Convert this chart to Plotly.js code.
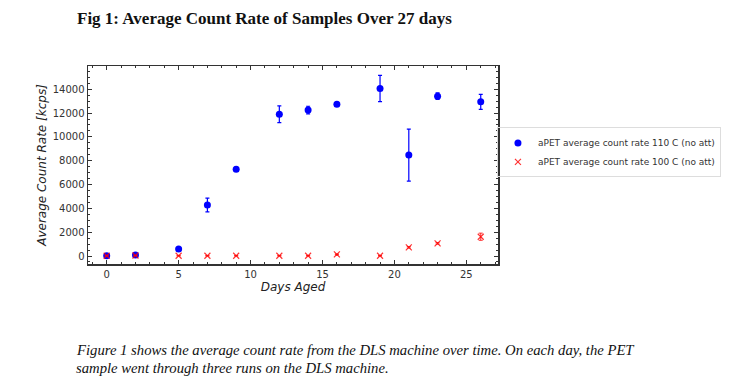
<!DOCTYPE html>
<html>
<head>
<meta charset="utf-8">
<script src="https://cdn.plot.ly/plotly-3.0.1.min.js"></script>
<style>html,body{margin:0;padding:0;background:#fff;}#chart{width:732px;height:380px;}</style>
</head>
<body>
<div id="chart"></div>
<script>
const days = [0, 2, 5, 7, 9, 12, 14, 16, 19, 21, 23, 26];
const rate110 = [30, 80, 590, 4280, 7290, 11900, 12250, 12740, 14060, 8470, 13420, 12940];
const err110 = [40, 60, 80, 580, 160, 700, 320, 80, 1100, 2180, 270, 630];
const rate100 = [20, 40, 20, 20, 20, 20, 20, 140, 20, 730, 1060, 1620];
const err100 = [10, 10, 10, 10, 10, 10, 10, 30, 10, 60, 60, 300];
const name110 = 'aPET average count rate 110 C (no att)';
const name100 = 'aPET average count rate 100 C (no att)';
const titleText = '<b>Fig 1: Average Count Rate of Samples Over 27 days</b>';
const caption1 = 'Figure 1 shows the average count rate from the DLS machine over time. On each day, the PET';
const caption2 = 'sample went through three runs on the DLS machine.';

const traces = [
  {x: days, y: rate110, name: name110, type: 'scatter', mode: 'markers',
   marker: {color: 'rgb(0,0,255)', size: 7, symbol: 'circle'},
   error_y: {type: 'data', array: err110, visible: true, color: 'rgb(0,0,255)', thickness: 1.2, width: 2}},
  {x: days, y: rate100, name: name100, type: 'scatter', mode: 'markers',
   marker: {color: 'rgba(255,0,0,0.8)', size: 6, symbol: 'x-thin-open', line: {color: 'rgba(255,0,0,0.8)', width: 1.2}},
   error_y: {type: 'data', array: err100, visible: true, color: 'rgba(255,0,0,0.8)', thickness: 1, width: 2}}
];

const axisFont = {family: 'DejaVu Sans', size: 10, color: '#333'};
const layout = {
  width: 732, height: 380,
  margin: {l: 88, r: 233, t: 66, b: 116},
  paper_bgcolor: '#fff', plot_bgcolor: '#fff',
  showlegend: true,
  title: {text: titleText, font: {family: 'Liberation Serif', size: 17, color: '#111'},
          xref: 'container', x: 77/732, xanchor: 'left', yref: 'container', y: 1 - 18/380, yanchor: 'middle'},
  xaxis: {range: [-1.3, 27.2], dtick: 5, tick0: 0, ticks: 'inside', ticklen: 4, tickcolor: '#333',
          showline: true, linecolor: '#333', linewidth: 1.5, mirror: 'allticks', showgrid: false, zeroline: false,
          tickfont: axisFont,
          minor: {dtick: 1, ticks: 'inside', ticklen: 2, tickcolor: '#333', showgrid: false},
          title: {text: '<i>Days Aged</i>', font: {family: 'DejaVu Sans', size: 12, color: '#222'}, standoff: 4}},
  yaxis: {range: [-670, 15950], dtick: 2000, tick0: 0, tickformat: 'd', ticks: 'inside', ticklen: 4, tickcolor: '#333',
          showline: true, linecolor: '#333', linewidth: 1.5, mirror: 'allticks', showgrid: false, zeroline: false,
          tickfont: axisFont,
          minor: {dtick: 500, ticks: 'inside', ticklen: 2, tickcolor: '#333', showgrid: false},
          title: {text: '<i>Average Count Rate [kcps]</i>', font: {family: 'DejaVu Sans', size: 12, color: '#222'}, standoff: 3}},
  legend: {x: 0.995, xanchor: 'left', y: 0.69, yanchor: 'top', bgcolor: 'rgba(255,255,255,0)',
           bordercolor: '#ddd', borderwidth: 1, font: {family: 'DejaVu Sans', size: 9, color: '#333'},
           tracegroupgap: 0, itemwidth: 30},
  annotations: [
    {xref: 'paper', yref: 'paper', x: (74-88)/411, y: (264-350)/198, xanchor: 'left', yanchor: 'middle', showarrow: false,
     text: '<i>' + caption1 + '</i>', font: {family: 'Liberation Serif', size: 14.7, color: '#111'}},
    {xref: 'paper', yref: 'paper', x: (74-88)/411, y: (264-368)/198, xanchor: 'left', yanchor: 'middle', showarrow: false,
     text: '<i>' + caption2 + '</i>', font: {family: 'Liberation Serif', size: 14.7, color: '#111'}}
  ]
};
Plotly.newPlot('chart', traces, layout, {displayModeBar: false, staticPlot: true});
</script>
</body>
</html>
